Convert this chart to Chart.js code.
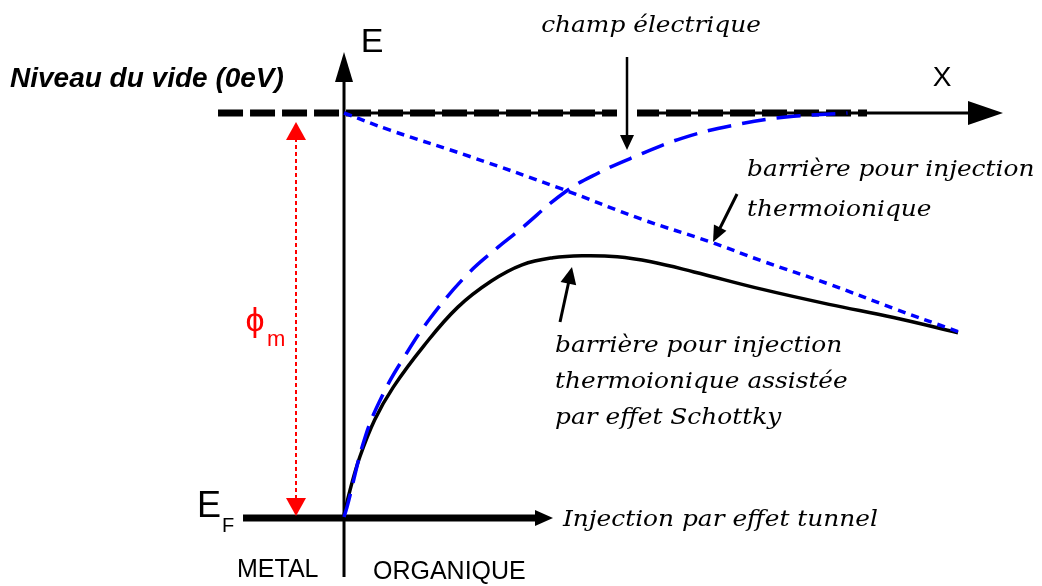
<!DOCTYPE html>
<html><head><meta charset="utf-8">
<script src="https://cdn.jsdelivr.net/npm/chart.js@4"></script>
<style>html,body{margin:0;padding:0;background:#fff;}canvas{display:block;}</style>
</head><body>
<canvas id="c" width="1042" height="586"></canvas>
<script>
// Energies in eV relative to the vacuum level; x = distance into the organic (arb. units)
const vacuumLevel = 0;
const fermiLevel = -4.0;

// barrière pour injection thermoionique assistée par effet Schottky (black)
const xSchottky = [0, 0.1, 0.25, 0.5, 0.8, 1.3, 1.85, 2.4, 2.9, 3.4, 3.9, 4.45, 5.0, 5.7, 6.8, 7.9, 8.95, 10];
const eSchottky = [-3.97, -3.72, -3.41, -3.03, -2.71, -2.30, -1.92, -1.66, -1.50, -1.43, -1.41, -1.42, -1.47, -1.57, -1.74, -1.89, -2.02, -2.17];

// image-force potential (blue, long dashes)
const xImage = [0, 0.05, 0.35, 0.65, 0.95, 1.4, 2.0, 2.5, 2.85, 3.6, 4.15, 4.7, 5.5, 6.35, 7.2, 8.2];
const eImage = [-3.99, -3.89, -3.19, -2.76, -2.44, -2.03, -1.60, -1.33, -1.16, -0.78, -0.59, -0.44, -0.25, -0.12, -0.04, 0];

// barrière pour injection thermoionique : vacuum level tilted by the field (blue, short dashes)
const xField = [0, 0.75, 2.05, 3.5, 4.85, 5.95, 6.8, 7.9, 8.95, 10];
const eField = [0, -0.17, -0.43, -0.74, -1.05, -1.27, -1.46, -1.69, -1.93, -2.16];

// Level extents (layout)
const vacuumExtent = [-2.052, 8.518];
const fermiExtent = [-1.645, 3.13];

const zip = (xs, ys) => xs.map((x, i) => ({x, y: ys[i]}));

const SERIF = 'italic 23px "DejaVu Serif"';
const SERIF_STRETCH = 1.08;
const SANS = '"Liberation Sans", Arial, sans-serif';

const texts = [
  {t: 'E', x: 0.456, y: 0.691, font: '34px ' + SANS, align: 'center'},
  {t: 'X', x: 9.739, y: 0.346, font: '28px ' + SANS, align: 'center'},
  {t: 'E', x: -2.199, y: -3.891, font: '36px ' + SANS, align: 'center'},
  {t: 'F', x: -1.889, y: -4.089, font: '20px ' + SANS, align: 'center'},
  {t: 'METAL', x: -1.743, y: -4.514, font: '25px ' + SANS, align: 'left'},
  {t: 'ORGANIQUE', x: 0.472, y: -4.533, font: '25px ' + SANS, align: 'left'},
  {t: 'Niveau du vide (0eV)', x: -5.44, y: 0.336, font: 'italic bold 28px ' + SANS, align: 'left'},
  {t: 'champ électrique', x: 5.0, y: 0.859, font: SERIF, align: 'center', sx: SERIF_STRETCH},
  {t: 'barrière pour injection', x: 6.564, y: -0.563, font: SERIF, align: 'left', sx: SERIF_STRETCH},
  {t: 'thermoionique', x: 6.564, y: -0.958, font: SERIF, align: 'left', sx: SERIF_STRETCH},
  {t: 'barrière pour injection', x: 3.436, y: -2.301, font: SERIF, align: 'left', sx: SERIF_STRETCH},
  {t: 'thermoionique assistée', x: 3.436, y: -2.657, font: SERIF, align: 'left', sx: SERIF_STRETCH},
  {t: 'par effet Schottky', x: 3.436, y: -3.012, font: SERIF, align: 'left', sx: SERIF_STRETCH},
  {t: 'Injection par effet tunnel', x: 3.567, y: -4.02, font: SERIF, align: 'left', sx: SERIF_STRETCH},
  {t: 'ϕ', x: -1.45, y: -2.064, font: '34px ' + SANS, align: 'center', color: '#ff0000'},
  {t: 'm', x: -1.107, y: -2.242, font: '22px ' + SANS, align: 'center', color: '#ff0000'}
];

const arrows = [
  {from: [0, -4.583], to: [0, 0.602], w: 3, len: 30, hw: 9, color: '#000'},
  {from: [0, 0], to: [10.733, 0], w: 3, len: 35, hw: 12, color: '#000'},
  {from: [fermiExtent[1] - 0.01, fermiLevel], to: [3.404, fermiLevel], w: 7, len: 18, hw: 8, color: '#000', headOnly: true},
  {from: [4.609, 0.553], to: [4.609, -0.365], w: 2.5, len: 15, hw: 7, color: '#000', clear: true},
  {from: [6.401, -0.800], to: [6.010, -1.274], w: 3, len: 16, hw: 7, color: '#000'},
  {from: [3.518, -2.064], to: [3.713, -1.521], w: 3, len: 17, hw: 8, color: '#000'}
];
const phiArrow = {x: -0.782, y1: -0.089, y2: -3.98, w: 2, len: 18, hw: 10, color: '#ff0000', dash: [4, 3]};

function head(ctx, x1, y1, x2, y2, len, hw, color) {
  const a = Math.atan2(y2 - y1, x2 - x1), c = Math.cos(a), s = Math.sin(a);
  ctx.save();
  ctx.fillStyle = color;
  ctx.beginPath();
  ctx.moveTo(x2, y2);
  ctx.lineTo(x2 - len * c + hw * s, y2 - len * s - hw * c);
  ctx.lineTo(x2 - len * c - hw * s, y2 - len * s + hw * c);
  ctx.closePath();
  ctx.fill();
  ctx.restore();
}

const diagram = {
  id: 'diagram',
  beforeDatasetsDraw(chart) {
    const ctx = chart.ctx, sx = chart.scales.x, sy = chart.scales.y;
    const px = v => sx.getPixelForValue(v), py = v => sy.getPixelForValue(v);
    ctx.save();
    ctx.lineCap = 'butt';
    arrows.slice(0, 2).forEach(a => {
      const x1 = px(a.from[0]), y1 = py(a.from[1]), x2 = px(a.to[0]), y2 = py(a.to[1]);
      const ang = Math.atan2(y2 - y1, x2 - x1);
      ctx.strokeStyle = a.color; ctx.lineWidth = a.w;
      ctx.beginPath(); ctx.moveTo(x1, y1);
      ctx.lineTo(x2 - a.len * 0.8 * Math.cos(ang), y2 - a.len * 0.8 * Math.sin(ang));
      ctx.stroke();
      head(ctx, x1, y1, x2, y2, a.len, a.hw, a.color);
    });
    ctx.restore();
  },
  afterDatasetsDraw(chart) {
    const ctx = chart.ctx, sx = chart.scales.x, sy = chart.scales.y;
    const px = v => sx.getPixelForValue(v), py = v => sy.getPixelForValue(v);
    ctx.save();
    arrows.slice(2).forEach(a => {
      const x1 = px(a.from[0]), y1 = py(a.from[1]), x2 = px(a.to[0]), y2 = py(a.to[1]);
      const ang = Math.atan2(y2 - y1, x2 - x1);
      if (a.clear) {
        ctx.fillStyle = '#fff';
        ctx.fillRect(x1 - 10, py(vacuumLevel) - 8, 20, 16);
      }
      if (!a.headOnly) {
        ctx.strokeStyle = a.color; ctx.lineWidth = a.w;
        ctx.beginPath(); ctx.moveTo(x1, y1);
        ctx.lineTo(x2 - a.len * 0.8 * Math.cos(ang), y2 - a.len * 0.8 * Math.sin(ang));
        ctx.stroke();
      }
      head(ctx, x1, y1, x2, y2, a.len, a.hw, a.color);
    });
    const fx = px(phiArrow.x), fy1 = py(phiArrow.y1), fy2 = py(phiArrow.y2);
    ctx.strokeStyle = phiArrow.color; ctx.lineWidth = phiArrow.w;
    ctx.setLineDash(phiArrow.dash);
    ctx.beginPath(); ctx.moveTo(fx, fy1 + phiArrow.len - 2); ctx.lineTo(fx, fy2 - phiArrow.len + 2); ctx.stroke();
    ctx.setLineDash([]);
    head(ctx, fx, fy2, fx, fy1, phiArrow.len, phiArrow.hw, phiArrow.color);
    head(ctx, fx, fy1, fx, fy2, phiArrow.len, phiArrow.hw, phiArrow.color);
    ctx.textBaseline = 'middle';
    texts.forEach(t => {
      ctx.save();
      ctx.font = t.font;
      ctx.fillStyle = t.color || '#000';
      ctx.textAlign = t.align;
      const k = t.sx || 1;
      ctx.translate(px(t.x), py(t.y));
      ctx.scale(k, 1);
      ctx.fillText(t.t, 0, 0);
      ctx.restore();
    });
    ctx.restore();
  }
};

new Chart(document.getElementById('c'), {
  type: 'scatter',
  data: {
    datasets: [
      {label: 'field', data: zip(xField, eField), showLine: true, borderColor: '#0000ff', borderWidth: 3.5,
       borderDash: [8, 6], pointRadius: 0, tension: 0.4, order: 0},
      {label: 'image', data: zip(xImage, eImage), showLine: true, borderColor: '#0000ff', borderWidth: 3.5,
       borderDash: [24, 11], pointRadius: 0, tension: 0.4, order: 0},
      {label: 'schottky', data: zip(xSchottky, eSchottky), showLine: true, borderColor: '#000', borderWidth: 3.5,
       pointRadius: 0, tension: 0.4, order: 1},
      {label: 'vacuum', data: vacuumExtent.map(x => ({x, y: vacuumLevel})), showLine: true, borderColor: '#000',
       borderWidth: 7, borderDash: [25, 7], pointRadius: 0, order: 2},
      {label: 'fermi', data: fermiExtent.map(x => ({x, y: fermiLevel})), showLine: true, borderColor: '#000',
       borderWidth: 7, pointRadius: 0, order: 2}
    ]
  },
  options: {
    responsive: false,
    animation: false,
    events: [],
    layout: {padding: 0},
    plugins: {legend: {display: false}, tooltip: {enabled: false}, title: {display: false}},
    scales: {
      x: {type: 'linear', display: false, min: -5.603, max: 11.368},
      y: {type: 'linear', display: false, min: -4.672, max: 1.116}
    }
  },
  plugins: [diagram]
});
</script>
</body></html>
